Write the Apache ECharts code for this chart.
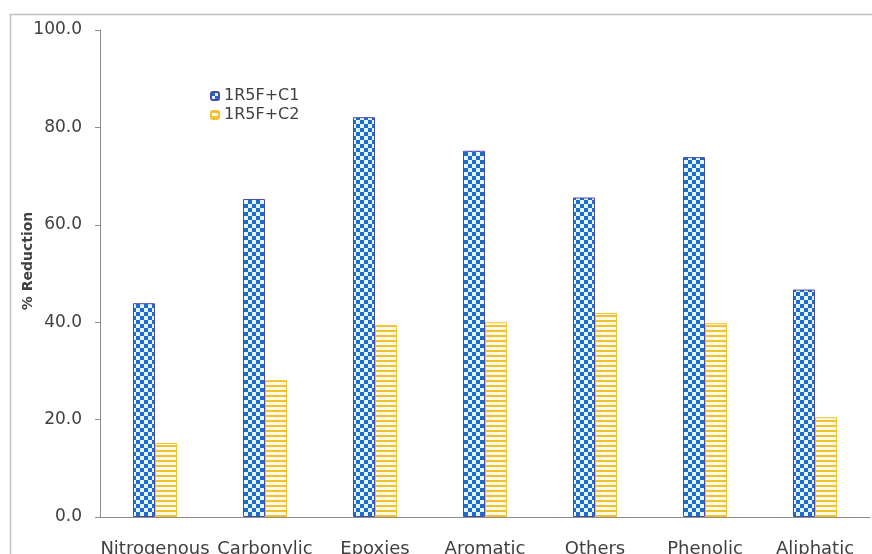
<!DOCTYPE html>
<html><head><meta charset="utf-8">
<script src="https://cdn.jsdelivr.net/npm/echarts@6/dist/echarts.min.js"></script>
<style>html,body{margin:0;padding:0;background:#fff}#c{width:872px;height:554px}</style>
</head><body><div id="c"></div>
<script>
var categories = ['Nitrogenous','Carbonylic','Epoxies','Aromatic','Others','Phenolic','Aliphatic'];
var seriesC1 = [43.9, 65.3, 82.1, 75.2, 65.6, 73.9, 46.7];
var seriesC2 = [15.2, 28.1, 39.4, 40.0, 41.9, 39.8, 20.5];
var seriesNames = ['1R5F+C1','1R5F+C2'];
var yTicks = [0, 20, 40, 60, 80, 100];
var yTitle = '% Reduction';

function checker(){
  var c=document.createElement('canvas'); c.width=8; c.height=8;
  var g=c.getContext('2d');
  g.fillStyle='#e6f6ff'; g.fillRect(0,0,8,8);
  g.fillStyle='#1b6ccf'; g.fillRect(0,0,4,4); g.fillRect(4,4,4,4);
  return c;
}
function stripes(){
  var c=document.createElement('canvas'); c.width=8; c.height=5;
  var g=c.getContext('2d');
  g.fillStyle='#fffbe8'; g.fillRect(0,0,8,5);
  g.fillStyle='#f2c12e'; g.fillRect(0,0,8,2);
  return c;
}
var font = '"DejaVu Sans", sans-serif';
var chart = echarts.init(document.getElementById('c'));
chart.setOption({
  animation:false,
  backgroundColor:'#fff',
  textStyle:{fontFamily:font},
  graphic:[
    {type:'rect',left:8,top:12,shape:{width:900,height:600},style:{fill:'none',stroke:'#c0c0c0',lineWidth:1.5},silent:true},
    {type:'text',x:28,y:261,rotation:Math.PI/2,silent:true,
     style:{text:yTitle,fill:'#404040',font:'bold 14px "DejaVu Sans", sans-serif',align:'center',verticalAlign:'middle'}}
  ],
  grid:{left:100,right:2,top:30,bottom:37,containLabel:false,outerBoundsMode:'none'},
  legend:{
    orient:'vertical',left:205,top:83,itemWidth:8,itemHeight:8,itemGap:3,
    textStyle:{fontSize:16,color:'#404040',fontFamily:font},
    data:seriesNames
  },
  xAxis:{
    type:'category',data:categories,
    axisLine:{lineStyle:{color:'#8c8c8c',width:1}},
    axisTick:{show:false},
    axisLabel:{color:'#404040',fontSize:18,margin:23,interval:0,fontFamily:font}
  },
  yAxis:{
    type:'value',min:yTicks[0],max:yTicks[yTicks.length-1],interval:20,
    axisLine:{show:true,lineStyle:{color:'#8c8c8c',width:1}},
    axisTick:{show:true,inside:false,length:5,lineStyle:{color:'#8c8c8c'}},
    splitLine:{show:false},
    axisLabel:{color:'#404040',fontSize:17,margin:18,fontFamily:font,formatter:function(v){return v.toFixed(1);}}
  },
  series:[
    {name:seriesNames[0],type:'bar',data:seriesC1,barWidth:22,barGap:'0%',
     itemStyle:{color:{image:checker(),repeat:'repeat'},borderColor:'#4a4aa8',borderWidth:1}},
    {name:seriesNames[1],type:'bar',data:seriesC2,barWidth:22,barGap:'0%',
     itemStyle:{color:{image:stripes(),repeat:'repeat'},borderColor:'#f2c12e',borderWidth:1}}
  ]
});
</script></body></html>
